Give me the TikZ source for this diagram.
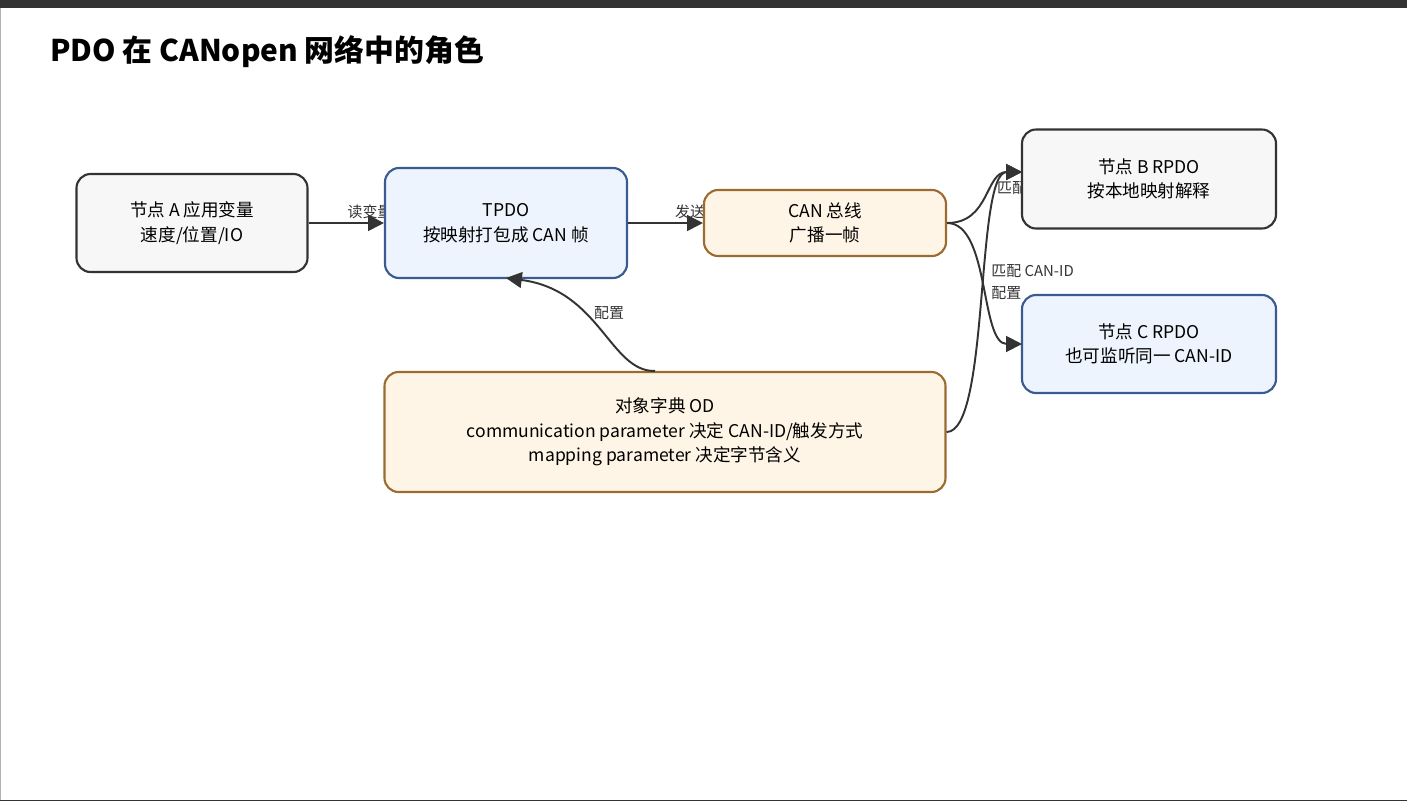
\documentclass[tikz,border=0pt]{standalone}
\usepackage{fontspec}
\setmainfont{Noto Sans CJK SC}
\usetikzlibrary{arrows.meta}
\definecolor{lineC}{HTML}{333333}
\definecolor{grayF}{HTML}{F7F7F7}
\definecolor{blueF}{HTML}{EEF4FD}
\definecolor{blueD}{HTML}{3A5A92}
\definecolor{orgF}{HTML}{FFF5E6}
\definecolor{orgD}{HTML}{9C6B30}
\tikzset{
  box/.style={draw=lineC, fill=grayF, line width=1.2pt, rounded corners=8pt, align=center, font=\fontsize{10}{14}\selectfont, inner sep=0pt},
  bluebox/.style={box, draw=blueD, fill=blueF},
  orgbox/.style={box, draw=orgD, fill=orgF},
  link/.style={draw=lineC, line width=1.1pt, -{Triangle[length=9pt,width=9pt]}},
  lab/.style={font=\fontsize{8.5}{10}\selectfont, text=lineC, inner sep=0pt}
}
\begin{document}
\begin{tikzpicture}[x=0.02cm, y=-0.02cm]
\useasboundingbox (0,0) rectangle (1407,802);
\fill[white] (0,0) rectangle (1407,802);
\fill[black!80] (0,0) rectangle (1407,8);
\draw[gray!60] (0.5,8) -- (0.5,800);
\draw[lineC] (0,800) -- (1407,800);
\node[anchor=west, font=\fontsize{17}{20}\selectfont\bfseries] (title) at (44,52) {PDO 在 CANopen 网络中的角色};

% labels first, boxes hide their ends
\node[lab] (l1) at (370,212) {读变量};
\node[lab] (l2) at (690,212) {发送};
\node[lab] (l3) at (1012,188) {匹配};
\node[lab, anchor=west] (l4) at (991,271) {匹配 CAN-ID};
\node[lab, anchor=west] (l5) at (991,293) {配置};
\node[lab] (l6) at (609,313) {配置};

% nodes
\node[box, minimum width=231*0.02cm, minimum height=98*0.02cm] (nodeA) at (192,223) {节点 A 应用变量\\速度/位置/IO};
\node[bluebox, minimum width=242*0.02cm, minimum height=110*0.02cm] (tpdo) at (506,223) {TPDO\\按映射打包成 CAN 帧};
\node[orgbox, minimum width=242*0.02cm, minimum height=66*0.02cm] (bus) at (825,223) {CAN 总线\\广播一帧};
\node[box, minimum width=254*0.02cm, minimum height=99*0.02cm] (nodeB) at (1149,179) {节点 B RPDO\\按本地映射解释};
\node[bluebox, minimum width=254*0.02cm, minimum height=98*0.02cm] (nodeC) at (1149,344) {节点 C RPDO\\也可监听同一 CAN-ID};
\node[orgbox, minimum width=561*0.02cm, minimum height=120*0.02cm] (od) at (665,432) {对象字典 OD\\communication parameter 决定 CAN-ID/触发方式\\mapping parameter 决定字节含义};

\coordinate (bTip) at (1022,172);
\coordinate (cTip) at (1022,344);
\coordinate (tTip) at (506,278);

\draw[link] (nodeA) -- (tpdo);
\draw[link] (tpdo) -- (bus);
\draw[link] (bus.east) .. controls (990,223) and (985,172) .. (bTip);
\draw[link] (bus.east) .. controls (990,223) and (980,344) .. (cTip);
\draw[link] (od.north -| 655,0) .. controls (610,372) and (600,290) .. (tTip);
\draw[link] (od.east) .. controls (990,432) and (975,172) .. (bTip);
\end{tikzpicture}
\end{document}
